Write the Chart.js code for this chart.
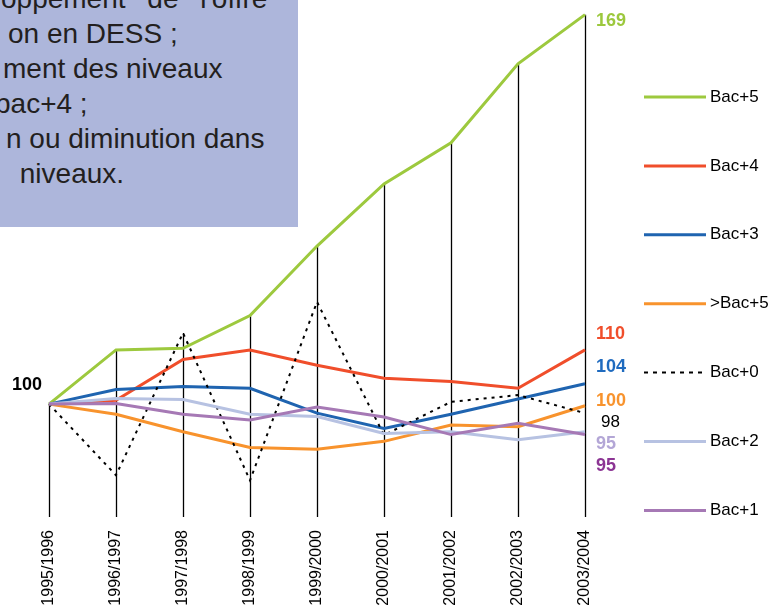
<!DOCTYPE html>
<html>
<head>
<meta charset="utf-8">
<title>Evolution des effectifs</title>
<script src="https://cdn.jsdelivr.net/npm/chart.js@4.4.1/dist/chart.umd.min.js"></script>
<style>
    body { margin: 0; background: #fff; font-family: "Liberation Sans", Arial, sans-serif; }
    #wrap { position: relative; width: 769px; height: 612px; overflow: hidden; }
    #chart { position: absolute; left: 0; top: 0; }
    .note { position: absolute; left: 0; top: 0; width: 298px; height: 227px; background: #adb6db; overflow: hidden; }
    .note div { position: absolute; white-space: pre; font-size: 28px; line-height: 28px; color: #231f20; }
</style>
</head>
<body>
<div id="wrap">
    <canvas id="chart" width="769" height="612"></canvas>
    <div class="note">
        <div style="left:1px; top:-15px; word-spacing:14px;">oppement de l'offre</div>
        <div style="left:8px; top:20px;">on en DESS ;</div>
        <div style="left:3px; top:55px;">ment des niveaux</div>
        <div style="left:-5px; top:90px;">bac+4 ;</div>
        <div style="left:6px; top:125px;">n ou diminution dans</div>
        <div style="left:12px; top:160px;"> niveaux.</div>
    </div>
</div>
<script>
    "use strict";

    // Data (base 100 in 1995/1996)
    var categories = ["1995/1996", "1996/1997", "1997/1998", "1998/1999", "1999/2000",
                      "2000/2001", "2001/2002", "2002/2003", "2003/2004"];
    var seriesNames = ["Bac+5", "Bac+4", "Bac+3", ">Bac+5", "Bac+0", "Bac+2", "Bac+1"];
    var bac5    = [100, 109.6, 109.9, 115.7, 128.0, 139.0, 146.3, 160.3, 169.0];
    var bac4    = [100, 100.7, 107.9, 109.6, 106.9, 104.6, 104.0, 102.8, 109.6];
    var bac3    = [100, 102.6, 103.1, 102.8, 98.4, 95.7, 98.2, 100.9, 103.6];
    var supBac5 = [100, 98.2, 95.1, 92.3, 92.0, 93.4, 96.3, 96.0, 99.7];
    var bac0    = [100, 87.4, 112.6, 86.5, 118.1, 94.5, 100.4, 101.6, 98.4];
    var bac2    = [100, 101.0, 100.8, 98.2, 97.8, 94.8, 95.1, 93.7, 95.1];
    var bac1    = [100, 100.1, 98.2, 97.2, 99.5, 97.7, 94.6, 96.6, 94.6];

    var seriesData = [bac5, bac4, bac3, supBac5, bac0, bac2, bac1];
    var lineColors = ["#9dc93e", "#f04e2b", "#1f64b0", "#f8932d", "#000000", "#b7c2e2", "#a679b5"];
    var labelColors = ["#9cc83d", "#f04e2b", "#1f6bbf", "#f8932d", "#000000", "#b3a6d6", "#8c3594"];
    // vertical shift of the end labels relative to the last point (px)
    var labelShift = [6, -16, -17, -5, 9, 12, 31];

    var datasets = seriesData.map(function (d, i) {
        var dashed = seriesNames[i] === "Bac+0";
        return {
            label: seriesNames[i],
            data: d,
            borderColor: lineColors[i],
            backgroundColor: lineColors[i],
            borderWidth: dashed ? 2 : 3,
            borderDash: dashed ? [3, 5] : [],
            pointRadius: 0,
            tension: 0,
            fill: false,
            order: seriesNames.length - i
        };
    });


    // Drop lines from the highest point down to the axis
    var dropLines = {
        id: "dropLines",
        beforeDatasetsDraw: function (chart) {
            var ctx = chart.ctx;
            var x = chart.scales.x, y = chart.scales.y;
            ctx.save();
            ctx.strokeStyle = "#000";
            ctx.lineWidth = 1.3;
            categories.forEach(function (c, i) {
                var top = Math.max.apply(null, seriesData.map(function (d) { return d[i]; }));
                var px = Math.round(x.getPixelForValue(i)) + 0.5;
                ctx.beginPath();
                ctx.moveTo(px, y.getPixelForValue(top));
                ctx.lineTo(px, chart.chartArea.bottom);
                ctx.stroke();
            });
            ctx.restore();
        }
    };


    // Value labels + legend on the right
    var annotations = {
        id: "annotations",
        afterDraw: function (chart) {
            var ctx = chart.ctx;
            var x = chart.scales.x, y = chart.scales.y;
            var last = categories.length - 1;
            var xEnd = x.getPixelForValue(last);
            ctx.save();
            ctx.textBaseline = "middle";

            // start value
            ctx.fillStyle = "#000";
            ctx.textAlign = "right";
            ctx.font = "bold 18px 'Liberation Sans', Arial";
            ctx.fillText(String(Math.round(bac5[0])), x.getPixelForValue(0) - 7, y.getPixelForValue(bac5[0]) - 19);

            // end values
            ctx.textAlign = "left";
            seriesData.forEach(function (d, i) {
                var v = Math.round(d[last]);
                var plain = seriesNames[i] === "Bac+0";
                ctx.font = (plain ? "" : "bold ") + (plain ? "17px" : "18px") + " 'Liberation Sans', Arial";
                ctx.fillStyle = labelColors[i];
                ctx.fillText(String(v), xEnd + (plain ? 16 : 11), y.getPixelForValue(d[last]) + labelShift[i]);
            });

            // legend
            ctx.font = "17px 'Liberation Sans', Arial";
            seriesNames.forEach(function (name, i) {
                var ly = 97 + i * 68.9;
                ctx.strokeStyle = lineColors[i];
                ctx.lineWidth = name === "Bac+0" ? 2 : 3;
                ctx.setLineDash(name === "Bac+0" ? [4, 5] : []);
                ctx.beginPath();
                ctx.moveTo(644, ly);
                ctx.lineTo(706, ly);
                ctx.stroke();
                ctx.fillStyle = "#000";
                ctx.fillText(name, 710, ly);
            });
            ctx.restore();
        }
    };


    // Chart
    var ctx1 = document.getElementById("chart").getContext("2d");
    var myChart = new Chart(ctx1, {
        type: "line",
        data: {
            labels: categories,
            datasets: datasets
        },
        options: {
            responsive: false,
            animation: false,
            devicePixelRatio: 1,
            layout: {
                padding: { left: 49, right: 184, top: 9, bottom: 0 }
            },
            plugins: {
                legend: { display: false },
                tooltip: { enabled: false }
            },
            scales: {
                x: {
                    offset: false,
                    grid: { display: false, drawTicks: false },
                    border: { display: false },
                    ticks: {
                        minRotation: 90,
                        maxRotation: 90,
                        padding: 13,
                        color: "#000",
                        font: { family: "'Liberation Sans', Arial", size: 16 }
                    },
                    afterFit: function (scale) { scale.height = 95; }
                },
                y: {
                    display: false,
                    min: 80,
                    max: 170
                }
            }
        },
        plugins: [dropLines, annotations]
    });
</script>
</body>
</html>
